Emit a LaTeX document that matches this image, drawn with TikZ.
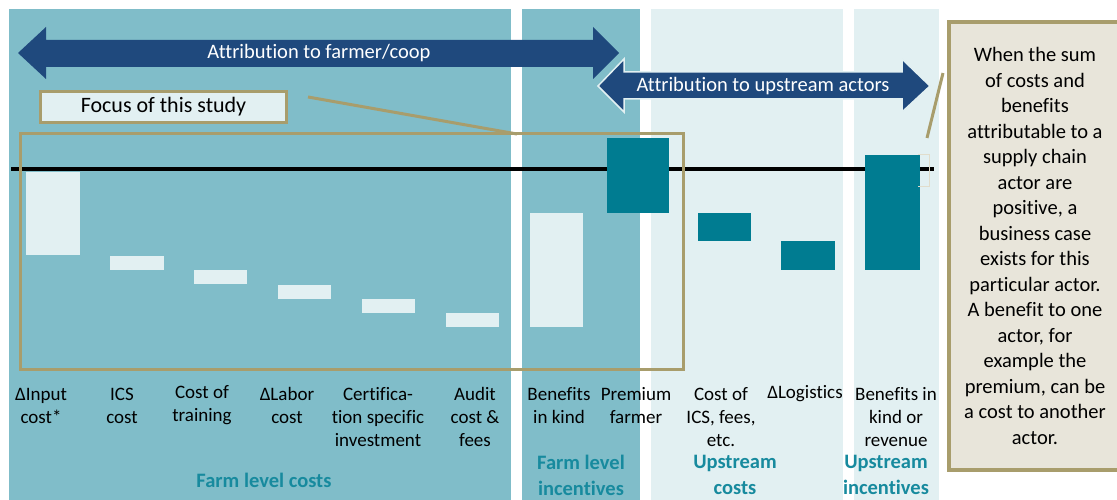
\documentclass[tikz,border=0pt]{standalone}
\usepackage{fontspec}
\setmainfont[Ligatures=NoCommon]{Carlito}
\definecolor{panelmid}{RGB}{128,189,201}
\definecolor{panellight}{RGB}{226,240,242}
\definecolor{barteal}{RGB}{0,124,145}
\definecolor{arrownavy}{RGB}{31,73,125}
\definecolor{framegold}{RGB}{168,157,108}
\definecolor{notefill}{RGB}{232,229,218}
\definecolor{headteal}{RGB}{23,138,158}
\begin{document}
\begin{tikzpicture}[scale=1.000000,x=1pt,y=-1pt,
  lightbar/.style={fill=panellight},
  darkbar/.style={fill=barteal},
  goldline/.style={draw=framegold,line width=3pt},
  arrowtext/.style={text=white,font=\fontsize{20.5}{24}\selectfont,inner sep=0pt},
  axislabel/.style={font=\fontsize{19}{23}\selectfont,align=center,inner sep=0pt},
  grouplabel/.style={font=\bfseries\fontsize{20.5}{26}\selectfont,text=headteal,align=center,inner sep=0pt}]
\useasboundingbox (0,0) rectangle (1117,500);
% Drawing panels
\fill[panelmid] (9,9) rectangle (511,500);
\fill[panelmid] (522,9) rectangle (640,500);
\fill[panellight] (651,9) rectangle (843,500);
\fill[panellight] (854,9) rectangle (939,500);
% Zero line
\draw[line width=3.5pt] (11,169) -- (934,169);
% Done with panels; drawing bars
% Farm level costs
\fill[lightbar] (26,172) rectangle (80,255);
\fill[lightbar] (110,256) rectangle (164,270);
\fill[lightbar] (194,270) rectangle (247,284);
\fill[lightbar] (278,285) rectangle (331,299);
\fill[lightbar] (362,299) rectangle (415,313);
\fill[lightbar] (446,313) rectangle (499,327);
% Farm level incentives
\fill[lightbar] (530,213) rectangle (583,327);
\fill[darkbar] (607,138) rectangle (669,213);
% Upstream costs and incentives
\fill[darkbar] (698,213) rectangle (751,241);
\fill[darkbar] (781,241) rectangle (835,270);
\fill[darkbar] (865,155) rectangle (920,270);
\draw[draw=framegold!35!white,line width=1pt] (918,155) -- (929,155) -- (929,187) -- (918,187);
% Done with bars; drawing focus frame
\draw[goldline] (20,134) rectangle (683,369);
\node[draw=framegold,line width=3pt,fill=panellight,minimum width=246pt,minimum height=31pt,
  inner sep=0pt,font=\fontsize{22}{26}\selectfont] (focus) at (163.5,107) {Focus of this study};
\coordinate (focustip) at (308,97);
\coordinate (frametop) at (517,134);
\draw[goldline] (focustip) -- (frametop);
% Attribution arrows
\fill[arrownavy] (18,53) -- (46,27) -- (46,40) -- (593,40) -- (593,27) -- (619,53)
  -- (593,79) -- (593,67) -- (46,67) -- (46,79) -- cycle;
\filldraw[fill=arrownavy,draw=panellight,line width=1.5pt] (598,86) -- (624,59) -- (624,72)
  -- (902,72) -- (902,59) -- (930,86) -- (902,112) -- (902,99) -- (624,99) -- (624,112) -- cycle;
\node[arrowtext] (farmattr) at (319,53) {Attribution to farmer/coop};
\node[arrowtext] (upattr) at (763,86) {Attribution to upstream actors};
% Bar labels
\node[axislabel] (inputlbl) at (41,405.5) {ΔInput\\cost*};
\node[axislabel] (icslbl) at (122,405.5) {ICS\\cost};
\node[axislabel] (traininglbl) at (202,405.5) {Cost of\\training};
\node[axislabel] (laborlbl) at (287,405.5) {ΔLabor\\cost};
\node[axislabel] (certlbl) at (378,417) {Certifica-\\tion specific\\investment};
\node[axislabel] (auditlbl) at (475,417) {Audit\\cost \&\\fees};
\node[axislabel] (kindlbl) at (559,405.5) {Benefits\\in kind};
\node[axislabel] (premiumlbl) at (636,405.5) {Premium\\farmer};
\node[axislabel] (upcostlbl) at (721,417) {Cost of\\ICS, fees,\\etc.};
\node[axislabel] (logisticslbl) at (805,394) {ΔLogistics};
\node[axislabel] (revenuelbl) at (896,417) {Benefits in\\kind or\\revenue};
% Group labels
\node[grouplabel] (farmcosts) at (264,480) {Farm level costs};
\node[grouplabel] (farmincent) at (581,475) {Farm level\\incentives};
\node[grouplabel] (upcosts) at (735,475) {Upstream\\costs};
\node[grouplabel] (upincent) at (886,475) {Upstream\\incentives};
% Note box
\draw[draw=framegold,line width=4pt,fill=notefill] (949,22) rectangle (1135,470);
\node[font=\fontsize{20.5}{25.5}\selectfont,align=center,inner sep=0pt] (note) at (1035,246)
  {When the sum\\of costs and\\benefits\\attributable to a\\supply chain\\actor are\\positive, a\\business case\\exists for this\\particular actor.\\A benefit to one\\actor, for\\example the\\premium, can be\\a cost to another\\actor.};
\coordinate (notetip) at (943,73);
\coordinate (bartip) at (927,138);
\draw[goldline] (notetip) -- (bartip);
\end{tikzpicture}
\end{document}
